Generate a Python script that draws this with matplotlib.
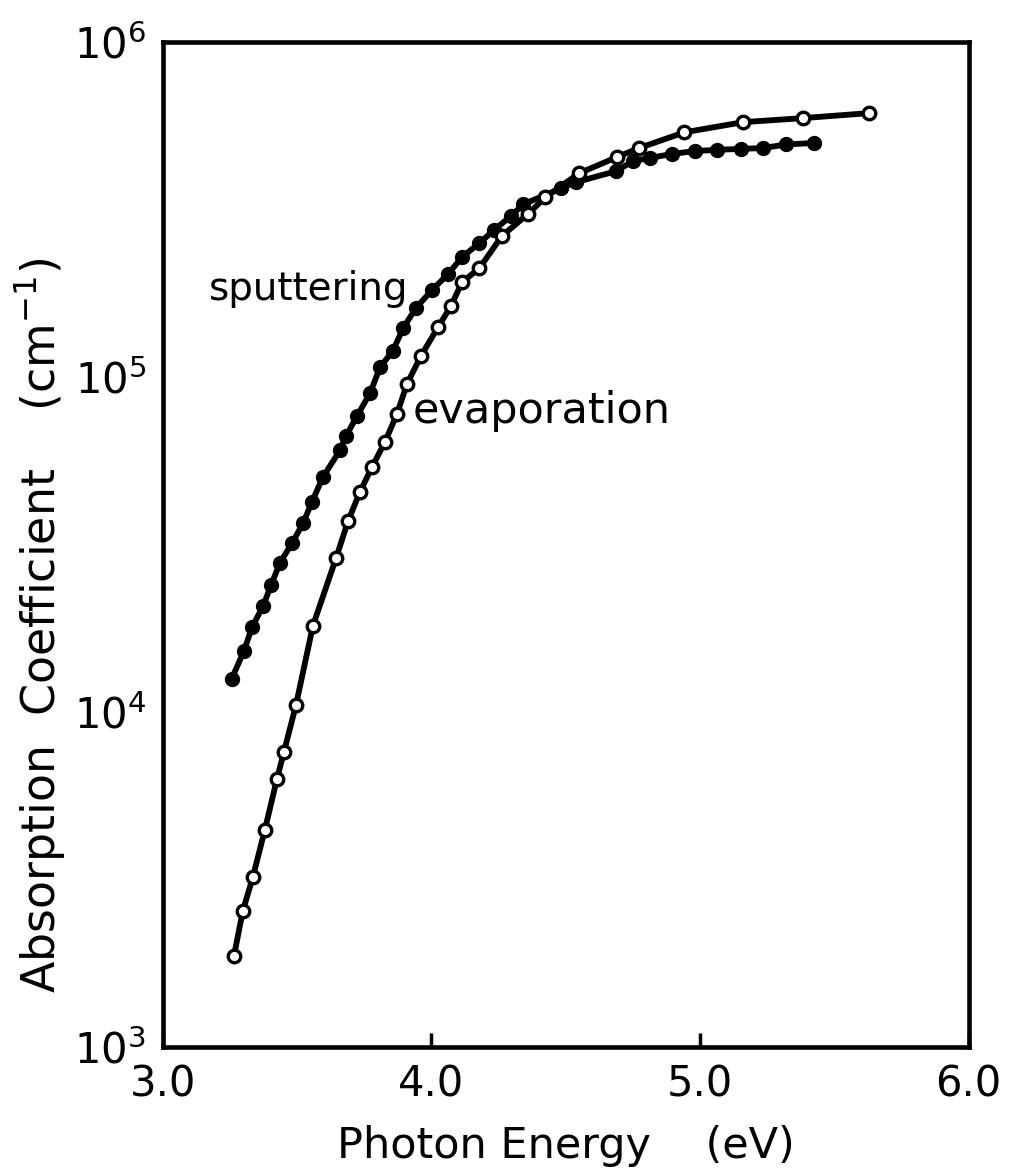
import numpy as np
import matplotlib.pyplot as plt

# sputtering (filled circles)
e_sput = [3.257, 3.302, 3.332, 3.373, 3.403, 3.436, 3.481, 3.522, 3.555, 3.596,
          3.660, 3.682, 3.723, 3.772, 3.809, 3.857, 3.895, 3.943, 4.003, 4.062,
          4.114, 4.178, 4.234, 4.297, 4.342, 4.483, 4.539, 4.688, 4.752, 4.815,
          4.897, 4.983, 5.065, 5.151, 5.236, 5.322, 5.426]
a_sput = [1.26e4, 1.52e4, 1.79e4, 2.07e4, 2.39e4, 2.79e4, 3.19e4, 3.66e4, 4.23e4, 5.03e4,
          6.05e4, 6.66e4, 7.65e4, 8.97e4, 1.07e5, 1.20e5, 1.40e5, 1.61e5, 1.82e5, 2.03e5,
          2.28e5, 2.51e5, 2.75e5, 3.03e5, 3.28e5, 3.66e5, 3.82e5, 4.12e5, 4.42e5, 4.51e5,
          4.64e5, 4.73e5, 4.77e5, 4.80e5, 4.83e5, 4.95e5, 5.0e5]

# evaporation (open circles)
e_evap = [3.265, 3.298, 3.335, 3.380, 3.425, 3.451, 3.496, 3.559, 3.645, 3.690,
          3.734, 3.779, 3.827, 3.872, 3.909, 3.962, 4.025, 4.073, 4.114, 4.178,
          4.263, 4.360, 4.424, 4.550, 4.692, 4.774, 4.942, 5.162, 5.382, 5.631]
a_evap = [1.87e3, 2.55e3, 3.21e3, 4.45e3, 6.31e3, 7.60e3, 1.05e4, 1.81e4, 2.88e4, 3.72e4,
          4.54e4, 5.39e4, 6.40e4, 7.76e4, 9.53e4, 1.16e5, 1.41e5, 1.63e5, 1.92e5, 2.11e5,
          2.64e5, 3.07e5, 3.44e5, 4.06e5, 4.54e5, 4.83e5, 5.38e5, 5.77e5, 5.93e5, 6.14e5]

xticks = [3.0, 4.0, 5.0, 6.0]
xtick_labels = ['3.0', '4.0', '5.0', '6.0']
yticks = [1e3, 1e4, 1e5, 1e6]

fig = plt.figure(figsize=(10.11, 11.7), dpi=100)
ax = fig.add_axes([0.161, 0.105, 0.797, 0.859])

ax.plot(e_sput, a_sput, '-', color='black', lw=4.2, zorder=2)
ax.plot(e_sput, a_sput, 'o', color='black', ms=10, zorder=3)
ax.plot(e_evap, a_evap, '-', color='black', lw=4.2, zorder=2)
ax.plot(e_evap, a_evap, 'o', mfc='white', mec='black', mew=2.4, ms=9, zorder=3)

ax.set_yscale('log')
ax.set_xlim(3.0, 6.0)
ax.set_ylim(1e3, 1e6)
ax.set_xticks(xticks)
ax.set_xticklabels(xtick_labels, fontsize=30)
ax.set_yticks(yticks)
ax.minorticks_off()
ax.tick_params(axis='x', direction='in', length=10, width=2.5, pad=12)
ax.tick_params(axis='y', length=0, labelsize=30, pad=12)
for s in ax.spines.values():
    s.set_linewidth(3.3)

ax.set_xlabel('Photon Energy    (eV)', fontsize=31, labelpad=14)
ax.set_ylabel(r'Absorption  Coefficient    (cm$^{-1}$)', fontsize=33)
ax.yaxis.set_label_coords(-0.118, 0.42)

ax.text(3.17, 1.83e5, 'sputtering', fontsize=28, va='center', ha='left')
ax.text(3.93, 7.9e4, 'evaporation', fontsize=31, va='center', ha='left')

fig.savefig('out.png', dpi=100)
